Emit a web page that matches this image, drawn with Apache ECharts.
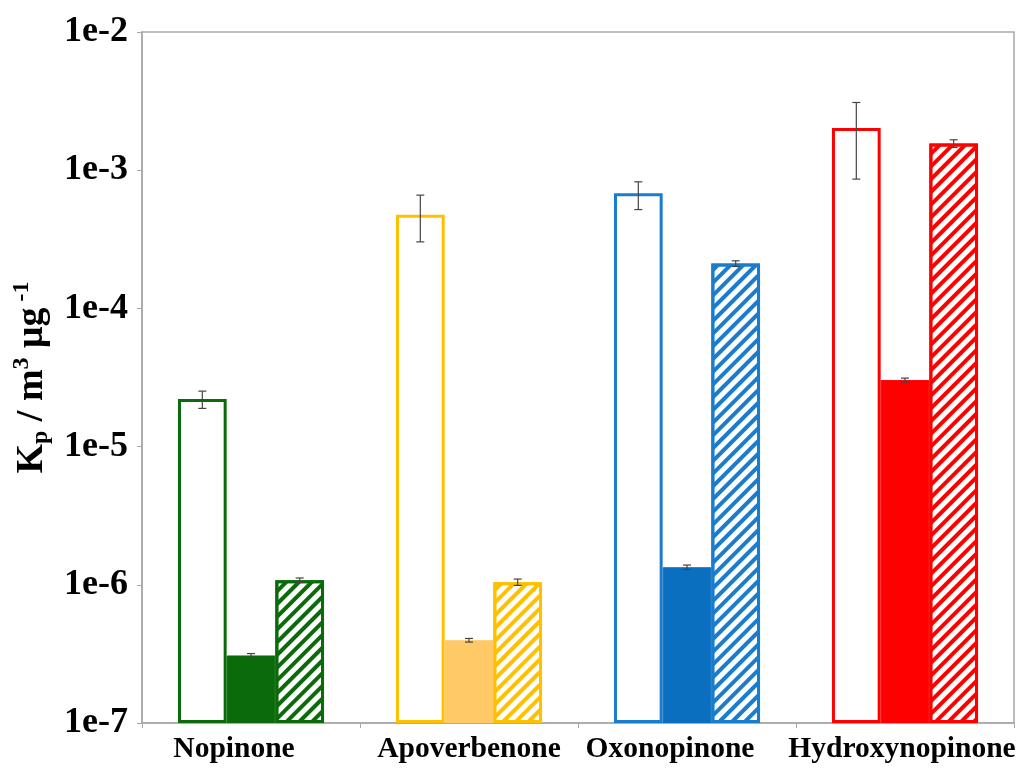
<!DOCTYPE html>
<html>
<head>
<meta charset="utf-8">
<script src="https://cdn.jsdelivr.net/npm/echarts@6/dist/echarts.min.js"></script>
<style>
html,body{margin:0;padding:0;background:#fff;}
#chart{width:1023px;height:771px;}
</style>
</head>
<body>
<div id="chart"></div>
<script>
// ---- data ----
var categories = ['Nopinone', 'Apoverbenone', 'Oxonopinone', 'Hydroxynopinone'];
var yTickLabels = ['1e-7', '1e-6', '1e-5', '1e-4', '1e-3', '1e-2'];
// open bars
var openValues = [2.21e-5, 4.77e-4, 6.82e-4, 2.02e-3];
var openLow    = [1.89e-5, 3.03e-4, 5.19e-4, 8.62e-4];
var openHigh   = [2.52e-5, 6.60e-4, 8.24e-4, 3.09e-3];
// solid bars
var solidValues = [3.08e-7, 3.97e-7, 1.34e-6, 3.03e-5];
var solidLow    = [2.98e-7, 3.85e-7, 1.29e-6, 2.93e-5];
var solidHigh   = [3.18e-7, 4.09e-7, 1.39e-6, 3.13e-5];
// hatched bars
var hatchValues = [1.08e-6, 1.045e-6, 2.11e-4, 1.56e-3];
var hatchLow    = [1.04e-6, 0.99e-6, 2.01e-4, 1.46e-3];
var hatchHigh   = [1.12e-6, 1.10e-6, 2.21e-4, 1.66e-3];

var lineColors  = ['#0b6b0b', '#ffc000', '#1a7ccc', '#ff0000'];
var solidColors = ['#0b6b0b', '#ffc967', '#0b6fc0', '#ff0000'];
// horizontal shift of category labels (px, negative = left)
var labelShift = [-17, 0, -17, -3];

var FONT = '"Liberation Serif", "Times New Roman", serif';

var openData = openValues.map(function (v, i) {
  return { value: v, itemStyle: { color: '#fff', borderColor: lineColors[i], borderWidth: 3 } };
});
var solidData = solidValues.map(function (v, i) {
  return { value: v, itemStyle: { color: solidColors[i], borderColor: solidColors[i], borderWidth: 1 } };
});
var hatchData = hatchValues.map(function (v, i) {
  return {
    value: v,
    itemStyle: {
      color: '#fff', borderColor: lineColors[i], borderWidth: 3,
      decal: { symbol: 'rect', symbolSize: 1, dashArrayX: [1, 0], dashArrayY: [3.5, 5], rotation: -Math.PI / 4, color: lineColors[i] }
    }
  };
});

var errData = [];
[[openLow, openHigh], [solidLow, solidHigh], [hatchLow, hatchHigh]].forEach(function (pair, j) {
  for (var i = 0; i < categories.length; i++) {
    errData.push([i, pair[0][i], pair[1][i], j]);
  }
});

var GAP = 0.33;
var catRich = {};
labelShift.forEach(function (s, i) {
  catRich['c' + i] = {
    fontFamily: FONT, fontWeight: 'bold', fontSize: 29.5, color: '#000',
    padding: s < 0 ? [0, -2 * s, 0, 0] : [0, 0, 0, 2 * s]
  };
});

var chart = echarts.init(document.getElementById('chart'));
chart.setOption({
  backgroundColor: '#fff',
  animation: false,
  grid: { left: 142, right: 9, top: 32, bottom: 48, show: true, borderColor: '#a8a8a8', borderWidth: 1.5, backgroundColor: 'transparent' },
  xAxis: {
    type: 'category',
    data: categories,
    axisLine: { lineStyle: { color: '#a8a8a8', width: 1.5 } },
    axisTick: { show: true, length: 5, lineStyle: { color: '#a8a8a8' } },
    axisLabel: {
      color: '#000', fontFamily: FONT, fontWeight: 'bold', fontSize: 29.5, margin: 11, interval: 0,
      formatter: function (v, idx) { return '{c' + idx + '|' + v + '}'; },
      rich: catRich
    },
    splitLine: { show: false }
  },
  yAxis: {
    type: 'log',
    logBase: 10,
    min: 1e-7,
    max: 1e-2,
    startValue: 1e-7,
    axisLine: { show: true, lineStyle: { color: '#a8a8a8', width: 1.5 } },
    axisTick: { show: true, length: 5, lineStyle: { color: '#a8a8a8' } },
    splitLine: { show: false },
    minorTick: { show: false },
    axisLabel: {
      color: '#000', fontFamily: FONT, fontWeight: 'bold', fontSize: 36, margin: 14,
      formatter: function (v) {
        var e = Math.round(Math.log10(v));
        return yTickLabels[e + 7];
      }
    },
    name: '{n|K}{sub|p}{n| / m}{sup|3}{n| μg}{sup| -1}',
    nameLocation: 'middle',
    nameGap: 87,
    nameTextStyle: {
      color: '#000', fontFamily: FONT, fontWeight: 'bold', fontSize: 38,
      rich: {
        n: { fontFamily: FONT, fontWeight: 'bold', fontSize: 38, color: '#000' },
        sub: { fontFamily: FONT, fontWeight: 'bold', fontSize: 24, color: '#000', padding: [18, 0, 0, 0] },
        sup: { fontFamily: FONT, fontWeight: 'bold', fontSize: 24, color: '#000', padding: [0, 0, 20, 0] }
      }
    }
  },
  series: [
    { type: 'bar', data: openData, barGap: '0%', barCategoryGap: (GAP * 100) + '%', z: 2 },
    { type: 'bar', data: solidData, barGap: '0%', barCategoryGap: (GAP * 100) + '%', z: 2 },
    { type: 'bar', data: hatchData, barGap: '0%', barCategoryGap: (GAP * 100) + '%', z: 2 },
    {
      type: 'custom',
      z: 5,
      data: errData,
      encode: { x: 0, y: [1, 2] },
      renderItem: function (params, api) {
        var cat = api.value(0);
        var j = api.value(3);
        var catW = api.size([1, 0])[0];
        var barW = catW * (1 - GAP) / 3;
        var lo = api.coord([cat, api.value(1)]);
        var hi = api.coord([cat, api.value(2)]);
        var x = lo[0] + (j - 1) * barW;
        var cap = 4;
        var st = { stroke: '#444', lineWidth: 1.2 };
        return {
          type: 'group',
          children: [
            { type: 'line', shape: { x1: x, y1: lo[1], x2: x, y2: hi[1] }, style: st },
            { type: 'line', shape: { x1: x - cap, y1: lo[1], x2: x + cap, y2: lo[1] }, style: st },
            { type: 'line', shape: { x1: x - cap, y1: hi[1], x2: x + cap, y2: hi[1] }, style: st }
          ]
        };
      }
    }
  ]
});
</script>
</body>
</html>
